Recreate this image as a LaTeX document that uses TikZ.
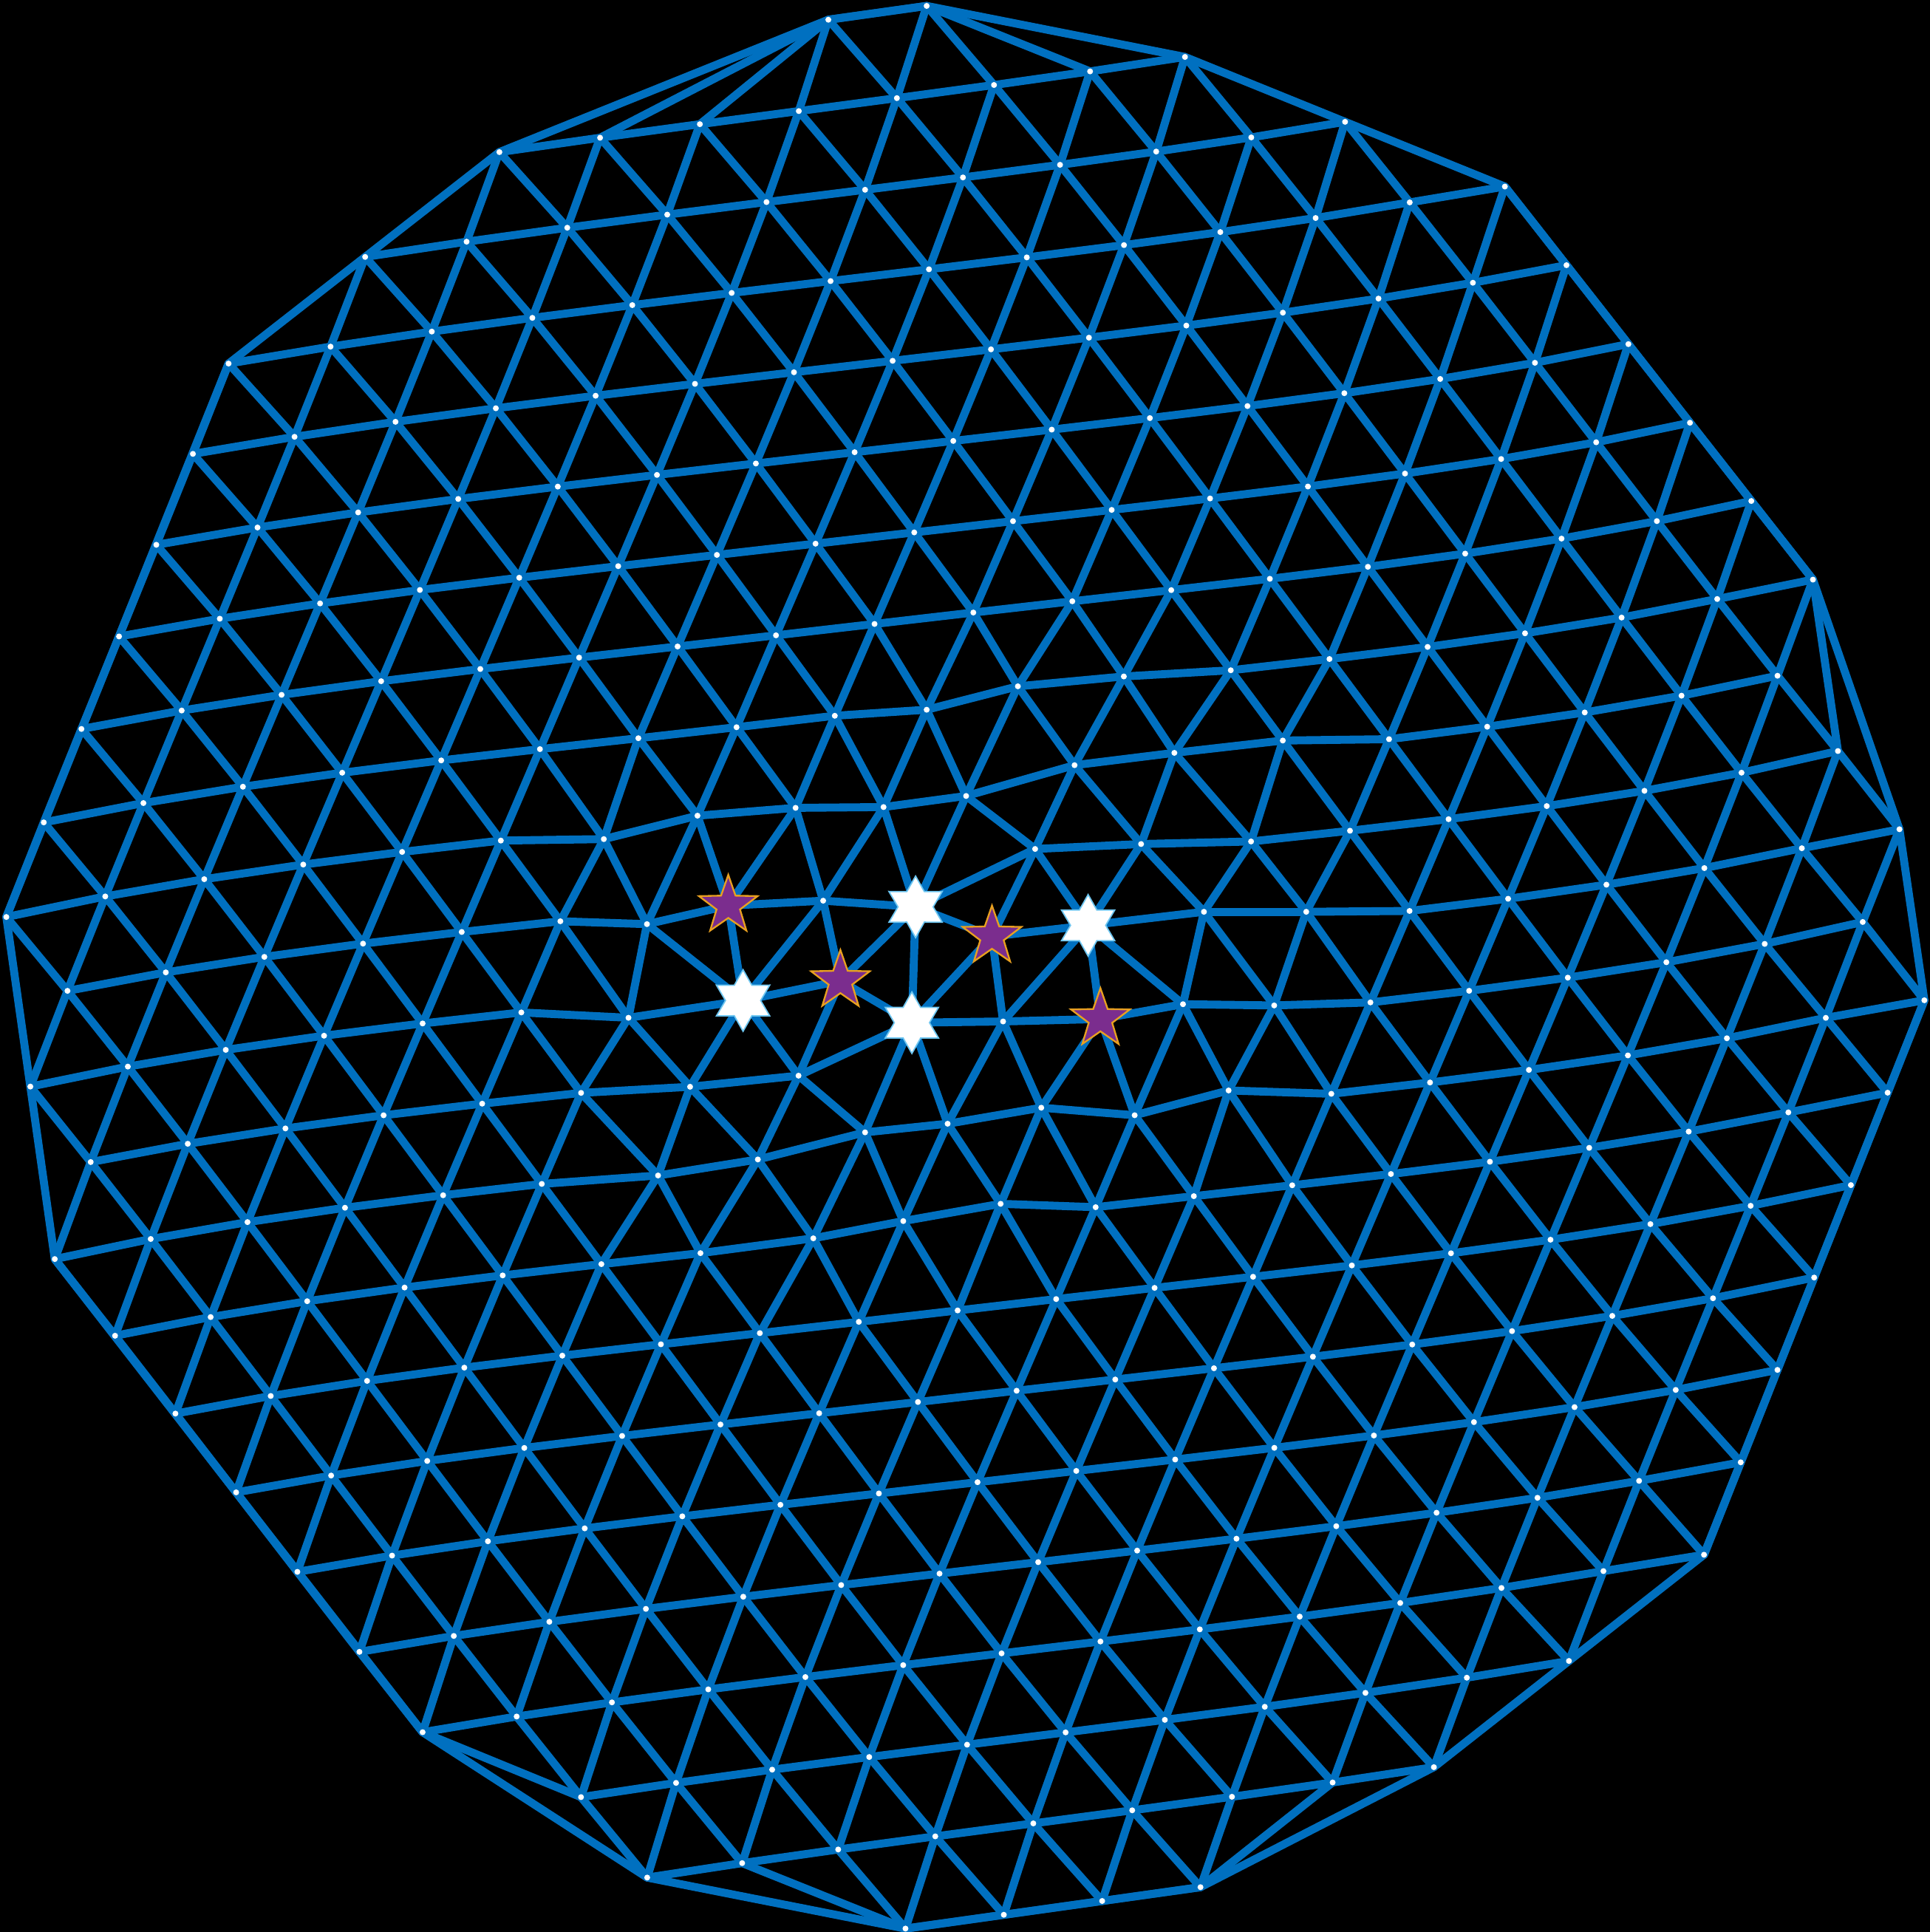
\documentclass[tikz,border=0pt]{standalone}
\usetikzlibrary{shapes.geometric}
\definecolor{Mesh}{HTML}{0070C0}
\definecolor{Plum}{HTML}{7B2D8E}
\definecolor{Gold}{HTML}{E8A020}
\definecolor{Sky}{HTML}{6EC6F0}

% mesh edge, left out when a site is removed or the pair was flipped
\newcommand\lnk[2]{%
  \ifcsname gone@#1\endcsname\else
  \ifcsname gone@#2\endcsname\else
  \ifcsname cut@#1@#2\endcsname\else
    \draw[edge] (#1) -- (#2);%
  \fi\fi\fi}
\newcommand\cutedge[2]{\expandafter\def\csname cut@#1@#2\endcsname{}}
\expandafter\def\csname gone@v10-11\endcsname{}
\cutedge{v9-11}{v8-10}
\cutedge{v12-12}{v11-11}

% row / first site / last site / same for the row above
\def\rows{0/5/6/99/-99,1/2/9/5/6,2/1/11/2/9,3/0/13/1/11,4/0/14/0/13,
  5/0/15/0/14,6/0/16/0/15,7/0/17/0/16,8/0/18/0/17,9/0/18/0/18,
  10/1/19/0/18,11/1/20/1/19,12/2/20/1/20,13/2/21/2/20,14/3/21/2/21,
  15/4/21/3/21,16/5/21/4/21,17/6/21/5/21,18/7/21/6/21,19/8/21/7/21,
  20/10/20/8/21,21/11/19/10/20,22/14/17/11/19}

\begin{document}
\begin{tikzpicture}[x=0.1mm,y=-0.1mm,
    edge/.style={Mesh,line width=0.65mm,line cap=round,line join=round},
    sixstar/.style={star,star points=6,star point ratio=1.75,minimum size=5mm,
      inner sep=0pt,fill=white,draw=Sky,line width=0.3pt},
    fivestar/.style={star,star points=5,star point ratio=2.5,minimum size=5mm,
      inner sep=0pt,fill=Plum,draw=Gold,line width=0.4pt}
  ]
  \useasboundingbox (0,0) rectangle (1566,1568);
  \fill[black] (0,0) rectangle (1566,1568);

  % lattice sites, slightly twisted round the core
  \foreach \r/\ra/\rb/\pa/\pb in \rows
    \foreach \i in {\ra,...,\rb}{
      \pgfmathsetmacro\px{5+79.8*\i+29.8*(9-\r)}
      \pgfmathsetmacro\py{747-11.2*\i-75*(9-\r)}
      \pgfmathsetmacro\qx{\px-745}
      \pgfmathsetmacro\qy{\py-785}
      \pgfmathsetmacro\rad{min(1,veclen(\qx,\qy)/770)}
      \pgfmathsetmacro\tw{0.104*\rad*(1-\rad)}
      \coordinate (v\i-\r) at ({\px-\tw*\qy},{\py+\tw*\qx});
    }
  % sites round the defects
  \foreach \n/\cx/\cy in {v6-9/490/681,v7-9/566/662,v9-9/717/655,v10-9/784/646,
      v11-9/872/621,v12-9/953/611,v13-9/1041/601,v9-8/752/576,v10-8/826/557,
      v11-8/912/549,v7-10/525/750,v8-10/591/735,v9-10/668/731,v10-10/743/736,
      v11-10/840/689,v12-10/926/685,v7-11/510/826,v8-11/603/812,v9-11/682/796,
      v11-11/805/760,v12-11/883/751,v13-11/977/740,v14-11/1060/740,
      v8-12/560/882,v9-12/648/873,v10-12/740/830,v11-12/814/829,v12-12/893/827,
      v13-12/960/815,v14-12/1034/816,v8-13/534/954,v9-13/615/941,
      v10-13/702/919,v11-13/769/912,v12-13/845/899,v14-13/997/885,
      v10-14/660/1005,v11-14/733/991,v12-14/812/977}
    \coordinate (\n) at (\cx,\cy);

  \foreach \r/\ra/\rb/\pa/\pb in \rows{
    \pgfmathtruncatemacro\s{\r-1}
    \foreach \i in {\ra,...,\rb}{
      \pgfmathtruncatemacro\ip{\i+1}
      \pgfmathtruncatemacro\im{\i-1}
      \ifnum\i<\rb\relax \lnk{v\i-\r}{v\ip-\r}\fi
      \ifnum\i<\pa\relax\else\ifnum\i>\pb\relax\else \lnk{v\i-\r}{v\i-\s}\fi\fi
      \ifnum\im<\pa\relax\else\ifnum\im>\pb\relax\else \lnk{v\i-\r}{v\im-\s}\fi\fi
    }
  }
  \foreach \p/\q in {v10-10/v9-11,v10-10/v10-12,v10-12/v11-11,v8-11/v9-10,
      v12-11/v11-12,v6-0/v8-1,v5-0/v3-1,v5-0/v4-1,v18-8/v19-10,
      v18-21/v17-22,v14-22/v12-21,v8-19/v10-20}
    \draw[edge] (\p) -- (\q);
  \draw[edge] (v6-0) -- (v9-1) -- (v11-2) -- (v13-3) -- (v18-8) -- (v20-11)
    -- (v21-13) -- (v21-19) -- (v19-21) -- (v17-22) -- (v14-22) -- (v11-21)
    -- (v8-19) -- (v2-13) -- (v0-9) -- (v0-3) -- (v2-1) -- (v5-0) -- cycle;

  \foreach \r/\ra/\rb/\pa/\pb in \rows
    \foreach \i in {\ra,...,\rb}{
      \ifcsname gone@v\i-\r\endcsname\else \fill[white] (v\i-\r) circle (0.24mm);\fi
    }

  \node[sixstar] (w1) at (v8-11) {};
  \node[sixstar] (w2) at (v10-10) {};
  \node[sixstar] (w3) at (v10-12) {};
  \node[sixstar] (w4) at (v12-11) {};
  \node[fivestar] (f1) at (v8-10) {};
  \node[fivestar] (f2) at (v9-11) {};
  \node[fivestar] (f3) at (v11-11) {};
  \node[fivestar] (f4) at (v12-12) {};
\end{tikzpicture}
\end{document}
